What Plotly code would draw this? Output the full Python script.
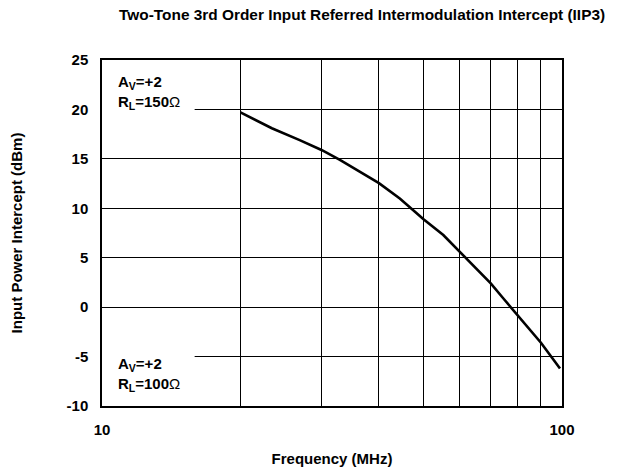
import plotly.graph_objects as go

freq_mhz = [20.0, 23.4, 26.9, 30.0, 32.9, 37.0, 40.0, 44.4, 46.9, 50.0, 55.2, 60.0, 65.2, 70.0, 74.5, 80.0, 86.6, 90.0, 99.0]
iip3_dbm = [19.7, 18.1, 16.9, 15.9, 14.9, 13.5, 12.55, 11.0, 10.0, 8.9, 7.3, 5.6, 3.9, 2.4, 0.9, -0.8, -2.7, -3.6, -6.2]

x_tickvals = [10, 20, 30, 40, 50, 60, 70, 80, 90, 100]
x_ticktext = ["10", "", "", "", "", "", "", "", "", "100"]
y_tickvals = [-10, -5, 0, 5, 10, 15, 20, 25]
y_ticktext = ["-10", "-5", "0", "5", "10", "15", "20", "25"]

FONT = "Liberation Sans, Arial, Helvetica, sans-serif"
FS = 15

fig = go.Figure()
fig.add_trace(go.Scatter(x=freq_mhz, y=iip3_dbm, mode="lines",
                         line=dict(color="black", width=2.6), showlegend=False))

fig.update_layout(
    width=619, height=467,
    margin=dict(l=102, r=57, t=60, b=61, autoexpand=False),
    paper_bgcolor="white", plot_bgcolor="white",
    font=dict(family=FONT, size=FS, color="black"),
    title=dict(text="<b>Two-Tone 3rd Order Input Referred Intermodulation Intercept (IIP3)</b>",
               x=0.585, xanchor="center", y=0.968, yanchor="middle",
               font=dict(size=15.4, family=FONT, color="black")),
    xaxis=dict(type="log", range=[1, 2], tickvals=x_tickvals, ticktext=x_ticktext,
               showgrid=True, gridcolor="black", gridwidth=1,
               showline=True, linecolor="black", linewidth=1.5, mirror=True,
               ticks="", zeroline=False, ticklabelstandoff=9, automargin=False,
               tickfont=dict(size=FS, family=FONT, color="black", weight="bold"),
               title=dict(text="<b>Frequency (MHz)</b>", standoff=20,
                          font=dict(size=FS, family=FONT, color="black"))),
    yaxis=dict(range=[-10, 25], tickvals=y_tickvals, ticktext=y_ticktext,
               showgrid=True, gridcolor="black", gridwidth=1,
               showline=True, linecolor="black", linewidth=1.5, mirror=True,
               ticks="", zeroline=False, ticklabelstandoff=9, automargin=False,
               tickfont=dict(size=FS, family=FONT, color="black", weight="bold"),
               title=dict(text="<b>Input Power Intercept (dBm)</b>", standoff=40,
                          font=dict(size=FS, family=FONT, color="black"))),
)

# white boxes hiding grid behind the labels
fig.add_shape(type="rect", xref="x", yref="y", x0=10, x1=15.9, y0=17.5, y1=23.5,
              fillcolor="white", line=dict(width=0), layer="between")
fig.add_shape(type="rect", xref="x", yref="y", x0=10, x1=15.9, y0=-9.3, y1=-2.5,
              fillcolor="white", line=dict(width=0), layer="between")

fig.add_annotation(x=0.03, xref="paper", y=21.7, yref="y", xanchor="left", yanchor="middle",
                   text="<b>A<sub>V</sub>=+2<br>R<sub>L</sub>=150</b>Ω", showarrow=False, align="left",
                   font=dict(size=FS, family=FONT, color="black"))
fig.add_annotation(x=0.03, xref="paper", y=-6.8, yref="y", xanchor="left", yanchor="middle",
                   text="<b>A<sub>V</sub>=+2<br>R<sub>L</sub>=100</b>Ω", showarrow=False, align="left",
                   font=dict(size=FS, family=FONT, color="black"))

fig.write_html("out.html", config={"displayModeBar": False},
               post_script="document.body.style.margin='0px';")
